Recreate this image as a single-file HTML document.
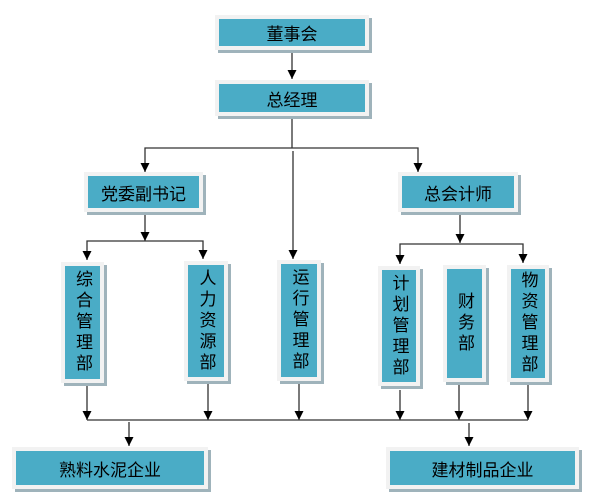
<!DOCTYPE html>
<html><head><meta charset="utf-8"><style>
body{margin:0;width:601px;height:503px;background:#fff;position:relative;overflow:hidden;font-family:"Liberation Sans","Noto Sans CJK SC",sans-serif}
.b{position:absolute;box-sizing:border-box;background:#4aacc6;border:4px solid #f2f2f2;box-shadow:3px 3px 0 #9fb3bb;color:#000;font-size:17px;display:flex;align-items:center;justify-content:center}
.v{writing-mode:vertical-rl;text-orientation:upright;letter-spacing:4px;font-size:17px}
svg{position:absolute;left:0;top:0}
</style></head><body>
<svg width="601" height="503">
<defs><marker id="a" markerWidth="9" markerHeight="9" refX="9" refY="4.5" orient="auto-start-reverse" markerUnits="userSpaceOnUse"><path d="M0,0 L9,4.5 L0,9 z" fill="#000"/></marker></defs>
<g stroke="#333" stroke-width="1.3" fill="none">
<line x1="292" y1="52" x2="292" y2="79" marker-end="url(#a)"/>
<line x1="292" y1="117" x2="292" y2="148"/>
<polyline points="145,172 145,148 418,148 418,172" marker-start="url(#a)" marker-end="url(#a)"/>
<line x1="293" y1="151" x2="293" y2="259" marker-end="url(#a)"/>
<line x1="145" y1="213" x2="145" y2="241" marker-end="url(#a)"/>
<polyline points="87,260 87,241 203,241 203,259" marker-start="url(#a)" marker-end="url(#a)"/>
<line x1="460" y1="213" x2="460" y2="243" marker-end="url(#a)"/>
<polyline points="400,264 400,244 523,244 523,263" marker-start="url(#a)" marker-end="url(#a)"/>
<line x1="87" y1="384" x2="87" y2="420" marker-end="url(#a)"/>
<line x1="208" y1="383" x2="208" y2="420" marker-end="url(#a)"/>
<line x1="299" y1="383" x2="299" y2="420" marker-end="url(#a)"/>
<line x1="400" y1="390" x2="400" y2="420" marker-end="url(#a)"/>
<line x1="459" y1="385" x2="459" y2="420" marker-end="url(#a)"/>
<line x1="528" y1="383" x2="528" y2="420" marker-end="url(#a)"/>
<line x1="87" y1="420" x2="528" y2="420"/>
<line x1="129" y1="422" x2="129" y2="446" marker-end="url(#a)"/>
<line x1="469" y1="423" x2="469" y2="446" marker-end="url(#a)"/>
</g></svg>
<div class="b" style="left:215px;top:15px;width:154px;height:35px">董事会</div>
<div class="b" style="left:215px;top:80px;width:154px;height:36px">总经理</div>
<div class="b" style="left:84px;top:172px;width:119px;height:40px">党委副书记</div>
<div class="b" style="left:398px;top:172px;width:120px;height:40px">总会计师</div>
<div class="b v" style="left:61px;top:262px;width:43px;height:121px">综合管理部</div>
<div class="b v" style="left:184px;top:261px;width:44px;height:120px">人力资源部</div>
<div class="b v" style="left:277px;top:260px;width:44px;height:121px">运行管理部</div>
<div class="b v" style="left:378px;top:266px;width:42px;height:120px">计划管理部</div>
<div class="b v" style="left:443px;top:265px;width:43px;height:117px">财务部</div>
<div class="b v" style="left:507px;top:265px;width:42px;height:117px">物资管理部</div>
<div class="b" style="left:12px;top:447px;width:196px;height:42px">熟料水泥企业</div>
<div class="b" style="left:386px;top:447px;width:193px;height:42px">建材制品企业</div>
</body></html>
